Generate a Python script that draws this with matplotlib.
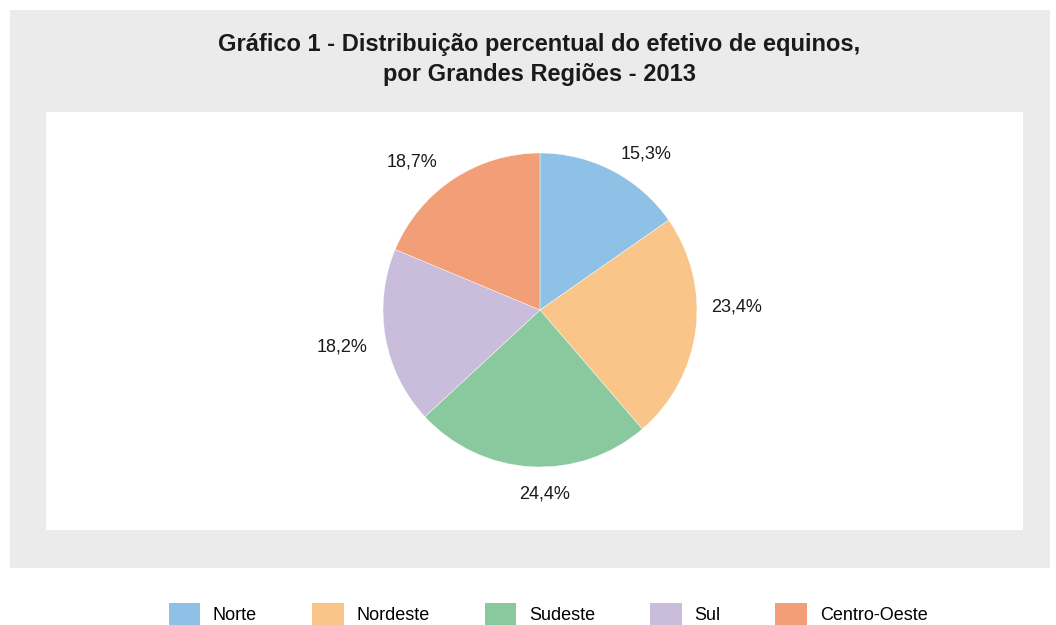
import matplotlib.pyplot as plt
from matplotlib.patches import Rectangle, Patch
from matplotlib import font_manager

# Data
regioes = ['Norte', 'Nordeste', 'Sudeste', 'Sul', 'Centro-Oeste']
percentuais = [15.3, 23.4, 24.4, 18.2, 18.7]
rotulos = ['15,3%', '23,4%', '24,4%', '18,2%', '18,7%']
cores = ['#8fc0e6', '#f9c589', '#8ac99d', '#cabcdb', '#f29e77']

# small nudges for the percentage labels (in pie radius units)
ajustes = [(0.11, -0.09), (0.045, 0.17), (0.10, 0.045), (-0.06, -0.025), (-0.14, -0.07)]

# Pick a condensed font if available
nomes = {f.name for f in font_manager.fontManager.ttflist}
fonte = 'Liberation Sans Narrow' if 'Liberation Sans Narrow' in nomes else 'Liberation Sans'

fig = plt.figure(figsize=(10.56, 6.25), dpi=100, facecolor='white')

# Grey panel and white inner box
fig.patches.append(Rectangle((0.0095, 0.0912), 0.9848, 0.8928, transform=fig.transFigure,
                             facecolor='#ebebeb', edgecolor='none', zorder=-2))
fig.patches.append(Rectangle((0.0436, 0.152), 0.9252, 0.669, transform=fig.transFigure,
                             facecolor='white', edgecolor='none', zorder=-1))

fig.text(0.511, 0.905, 'Gráfico 1 - Distribuição percentual do efetivo de equinos,\npor Grandes Regiões - 2013',
         ha='center', va='center', fontsize=17, fontweight='bold', family=fonte,
         linespacing=1.4, color='#1a1a1a')

# Pie
ax = fig.add_axes([0.3627, 0.2528, 0.2973, 0.5024])
wedges, texts = ax.pie(percentuais, labels=rotulos, colors=cores, startangle=90,
                       counterclock=False, labeldistance=1.22,
                       wedgeprops=dict(linewidth=0.3, edgecolor='white'),
                       textprops=dict(fontsize=13, family=fonte, color='#1a1a1a'))
for t, (dx, dy) in zip(texts, ajustes):
    x, y = t.get_position()
    t.set_position((x + dx, y + dy))
    t.set_horizontalalignment('center')
    t.set_verticalalignment('center')
ax.set_xlim(-1, 1)
ax.set_ylim(-1, 1)
ax.set_aspect('equal')
ax.axis('off')

# Legend
handles = [Patch(facecolor=c, edgecolor='none', label=r) for c, r in zip(cores, regioes)]
fig.legend(handles=handles, loc='center', bbox_to_anchor=(0.519, 0.017), ncol=5,
           frameon=False, prop=dict(family=fonte, size=13),
           handlelength=1.75, handleheight=1.6, handletextpad=0.7, columnspacing=3.05)

fig.savefig('out.png', dpi=100, facecolor='white')
